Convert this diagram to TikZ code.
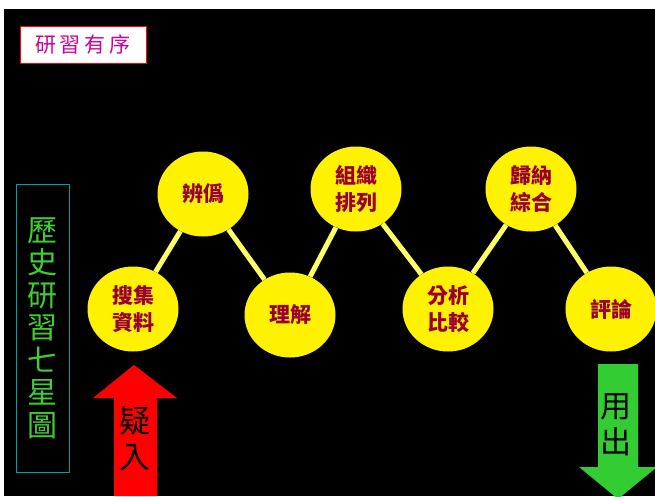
\documentclass[tikz,border=0pt]{standalone}
\usepackage{fontspec}
\newfontfamily\cjk{Noto Sans CJK TC}
\usetikzlibrary{shapes, positioning}
\definecolor{titlepink}{HTML}{CC0099}
\definecolor{boxcyan}{HTML}{00A0A0}
\definecolor{sidegreen}{HTML}{44CC33}
\definecolor{starred}{HTML}{990033}
\definecolor{linkyellow}{HTML}{FFFF66}
\definecolor{outgreen}{HTML}{33CC33}

\begin{document}
\begin{tikzpicture}[x=1pt, y=-1pt,
	star/.style={ellipse, fill=yellow, minimum width=91pt, minimum height=85pt, inner sep=0pt, text=starred, align=center, font=\cjk\bfseries\fontsize{21}{27}\selectfont},
	link/.style={draw=linkyellow, line width=5pt},
	big/.style={align=center, font=\cjk\fontsize{31}{36}\selectfont}]
	\useasboundingbox (0,0) rectangle (655,496);
	\fill[white] (0,0) rectangle (655,496);
	\fill[black] (4,9) rectangle (655,496);
	% title
	\node[draw=red, fill=white, thick, minimum width=126pt, minimum height=37pt, text=titlepink, font=\cjk\fontsize{21}{24}\selectfont] (title) at (83,44.5) {研\hspace{4pt}習\hspace{4pt}有\hspace{4pt}序};
	% side box
	\node[draw=boxcyan, thick, minimum width=53pt, minimum height=288pt, text=sidegreen, align=center, font=\cjk\fontsize{30}{32.5}\selectfont] (side) at (42.5,328) {歷\\史\\研\\習\\七\\星\\圖};
	% stars
	\node[star] (a) at (133,309) {搜集\\資料};
	\node[star] (b) at (203,194) {辨僞};
	\node[star] (c) at (290,315) {理解};
	\node[star] (d) at (356,189) {組織\\排列};
	\node[star] (e) at (448,309) {分析\\比較};
	\node[star] (f) at (531,189) {歸納\\綜合};
	\node[star] (g) at (611,309) {評論};
	\foreach \u/\v in {a/b, b/c, c/d, d/e, e/f, f/g}
		\draw[link] (\u) -- (\v);
	% arrows
	\fill[red] (134,365) -- (177,398) -- (157,398) -- (157,496) -- (114,496) -- (114,398) -- (93,398) -- cycle;
	\node[big] (in) at (135,439) {疑\\入};
	\fill[outgreen] (598,364) -- (638,364) -- (638,467) -- (657,467) -- (618,499) -- (579,467) -- (598,467) -- cycle;
	\node[big] (out) at (616,425) {用\\出};
\end{tikzpicture}
\end{document}
